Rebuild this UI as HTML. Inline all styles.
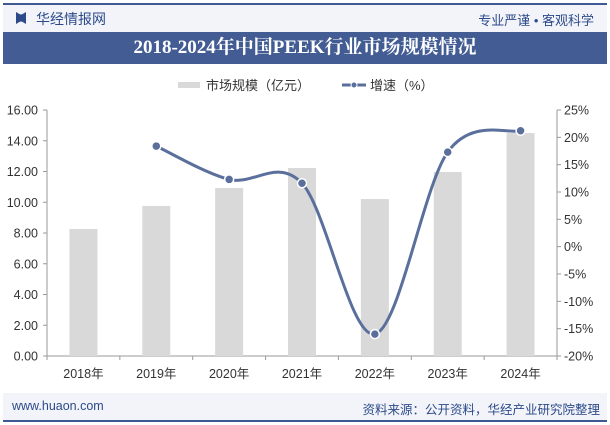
<!DOCTYPE html>
<html><head><meta charset="utf-8">
<style>
body{margin:0;width:610px;height:425px;background:#fff;font-family:"Liberation Sans","Noto Sans CJK SC",sans-serif;overflow:hidden;position:relative}
.a{position:absolute}
</style></head><body>
<div class="a" style="left:3px;top:3px;width:604px;height:2px;background:#3f5a92"></div>
<div class="a" style="left:3px;top:5px;width:604px;height:27px;background:#f2f4f9"></div>
<div class="a" style="left:16px;top:12px;width:10px;height:12px;background:#2c4a8a;clip-path:polygon(0 0,40% 20%,60% 20%,100% 0,100% 100%,60% 80%,40% 80%,0 100%)"></div>
<div class="a" style="left:36px;top:9px;font-size:14px;color:#2c4a8a">华经情报网</div>
<div class="a" style="right:16px;top:10px;font-size:13px;color:#2c4a8a">专业严谨 • 客观科学</div>
<div class="a" style="left:3px;top:32px;width:604px;height:32px;background:#435d94;color:#fff;font-family:'Liberation Serif','Noto Serif CJK SC',serif;font-weight:bold;font-size:19px;line-height:32px;text-align:center">2018-2024年中国PEEK行业市场规模情况</div>
<div class="a" style="left:3px;top:393px;width:604px;height:27px;background:#f2f4f9"></div>
<div class="a" style="left:12px;top:399px;font-size:12.5px;color:#2c4a8a">www.huaon.com</div>
<div class="a" style="right:10px;top:399px;font-size:12.5px;color:#2c4a8a">资料来源：公开资料，华经产业研究院整理</div>
<div class="a" style="left:3px;top:420px;width:604px;height:2px;background:#3f5a92"></div>
<svg class="a" style="left:0;top:0" width="610" height="425" id="chart"></svg>
<script>
const categories=["2018年","2019年","2020年","2021年","2022年","2023年","2024年"];
const marketSize=[8.26,9.76,10.93,12.23,10.21,11.97,14.5];
const growth=[null,18.4,12.3,11.6,-16.0,17.3,21.2];
const leftTicks=[0,2,4,6,8,10,12,14,16];
const rightTicks=[-20,-15,-10,-5,0,5,10,15,20,25];
const NS="http://www.w3.org/2000/svg";
const svg=document.getElementById('chart');
const X0=47,X1=557,YT=110,YB=356;
const bw=(X1-X0)/categories.length;
const xc=i=>X0+bw*(i+0.5);
const yL=v=>YB-(v-0)/(16-0)*(YB-YT);
const yR=v=>YB-(v+20)/(45)*(YB-YT);
function mk(t,a,p){const e=document.createElementNS(NS,t);for(const k in a)e.setAttribute(k,a[k]);(p||svg).appendChild(e);return e;}
// axes
let ax=mk('line',{x1:X0,y1:YT,x2:X0,y2:YB,stroke:'#999'});


ax=mk('line',{x1:X1,y1:YT,x2:X1,y2:YB,stroke:'#999'});


ax=mk('line',{x1:X0,y1:YB,x2:X1,y2:YB,stroke:'#999'});


leftTicks.forEach(v=>{
  mk('line',{x1:X0-4,y1:yL(v),x2:X0,y2:yL(v),stroke:'#999'});
  const t=mk('text',{x:38,y:yL(v)+4.5,'text-anchor':'end','font-size':12.5,fill:'#333'});
  t.textContent=v.toFixed(2);
  
  
});
rightTicks.forEach(v=>{
  mk('line',{x1:X1,y1:yR(v),x2:X1+4,y2:yR(v),stroke:'#999'});
  const t=mk('text',{x:564,y:yR(v)+4.5,'font-size':12.5,fill:'#333'});
  t.textContent=v+'%';
  
  
});
for(let i=0;i<=categories.length;i++)mk('line',{x1:X0+bw*i,y1:YB,x2:X0+bw*i,y2:YB+4,stroke:'#999'});
categories.forEach((c,i)=>{
  const r=mk('rect',{x:xc(i)-14,y:yL(marketSize[i]),width:28,height:YB-yL(marketSize[i]),fill:'#d9d9d9'});
  
  
  const t=mk('text',{x:xc(i),y:378,'text-anchor':'middle','font-size':12.5,fill:'#333'});
  t.textContent=c;
  
  
});
// line
const pts=[];growth.forEach((g,i)=>{if(g!==null)pts.push([xc(i),yR(g)]);});
let d='M'+pts[0][0]+','+pts[0][1];
for(let i=0;i<pts.length-1;i++){
  const p0=pts[Math.max(i-1,0)],p1=pts[i],p2=pts[i+1],p3=pts[Math.min(i+2,pts.length-1)];
  const c1=[p1[0]+(p2[0]-p0[0])/6,p1[1]+(p2[1]-p0[1])/6],c2=[p2[0]-(p3[0]-p1[0])/6,p2[1]-(p3[1]-p1[1])/6];
  d+=` C${c1[0]},${c1[1]} ${c2[0]},${c2[1]} ${p2[0]},${p2[1]}`;
}
const ln=mk('path',{d:d,fill:'none',stroke:'#5b6f9c','stroke-width':3});


pts.forEach(p=>{
  const c=mk('circle',{cx:p[0],cy:p[1],r:4.5,fill:'#5b6f9c',stroke:'#fff','stroke-width':1.5});
  
  
});
// legend
const lg=mk('g',{});


mk('rect',{x:178,y:82,width:22,height:6,fill:'#d9d9d9'},lg);
let t=mk('text',{x:206,y:90,'font-size':13,fill:'#333'},lg);t.textContent='市场规模（亿元）';


mk('line',{x1:342,y1:85,x2:366,y2:85,stroke:'#5b6f9c','stroke-width':3},lg);
mk('circle',{cx:354,cy:85,r:3,fill:'#5b6f9c',stroke:'#fff'},lg);
t=mk('text',{x:370,y:90,'font-size':13,fill:'#333'},lg);t.textContent='增速（%）';


</script>
</body></html>
